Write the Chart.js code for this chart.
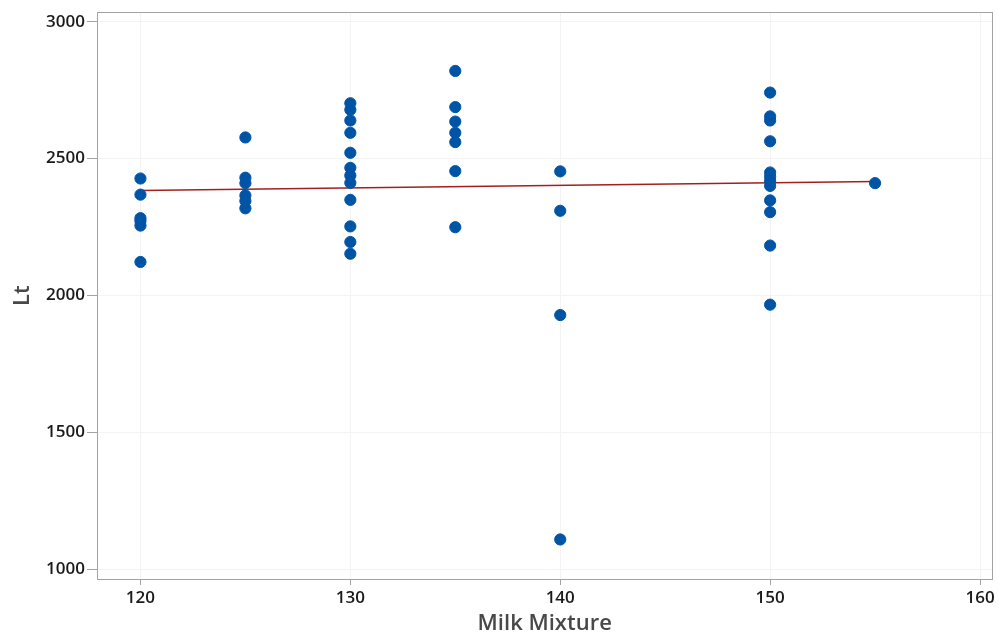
<!DOCTYPE html>
<html>
<head>
<meta charset="utf-8">
<script src="https://cdn.jsdelivr.net/npm/chart.js@4.4.1/dist/chart.umd.min.js"></script>
<style>
  html, body { margin: 0; padding: 0; background: #fff; }
  #wrap { width: 999px; height: 639px; }
</style>
</head>
<body>
<div id="wrap"><canvas id="grafico" width="999" height="639"></canvas></div>
<script>
// valores (Milk Mixture x Lt)
const mix120 = [2427, 2368, 2282, 2272, 2255, 2122];
const mix125 = [2577, 2430, 2410, 2365, 2345, 2318];
const mix130 = [2702, 2678, 2639, 2594, 2521, 2466, 2438, 2411, 2349, 2252, 2195, 2152];
const mix135 = [2820, 2688, 2635, 2594, 2560, 2454, 2249];
const mix140 = [2453, 2309, 1928, 1108];
const mix150 = [2741, 2654, 2639, 2563, 2449, 2434, 2418, 2400, 2347, 2304, 2182, 1966];
const mix155 = [2410];

const grupos = [120, 125, 130, 135, 140, 150, 155];
const valores = [mix120, mix125, mix130, mix135, mix140, mix150, mix155];

// reta ajustada (pontos extremos)
const ajusteX = [120, 155];
const ajusteY = [2383, 2416];

const xTicks = [120, 130, 140, 150, 160];
const yTicks = [1000, 1500, 2000, 2500, 3000];

const pontos = [];
grupos.forEach((g, i) => {
  valores[i].forEach(v => pontos.push({ x: g, y: v }));
});

const caixa = {
  id: 'caixa',
  afterDraw(chart) {
    const a = chart.chartArea;
    const c = chart.ctx;
    c.save();
    c.strokeStyle = '#a3a3a3';
    c.lineWidth = 1;
    c.strokeRect(Math.round(a.left) + 0.5, Math.round(a.top) + 0.5,
      Math.round(a.right - a.left), Math.round(a.bottom - a.top));
    c.restore();
  }
};

const fonte = "'Open Sans', 'Noto Sans', sans-serif";

new Chart(document.getElementById('grafico').getContext('2d'), {
  type: 'scatter',
  data: {
    datasets: [
      {
        label: 'Ajuste',
        type: 'line',
        data: ajusteX.map((x, i) => ({ x: x, y: ajusteY[i] })),
        borderColor: '#a31f1f',
        borderWidth: 1.6,
        pointRadius: 0,
        fill: false,
        order: 2
      },
      {
        label: 'Lt',
        data: pontos,
        backgroundColor: '#0054a6',
        borderColor: '#0054a6',
        pointRadius: 5.6,
        pointHoverRadius: 5.6,
        order: 1
      }
    ]
  },
  options: {
    responsive: false,
    animation: false,
    layout: { padding: { top: 12, right: 4, left: 0, bottom: 0 } },
    plugins: {
      legend: { display: false },
      tooltip: { enabled: false }
    },
    scales: {
      x: {
        type: 'linear',
        min: 117.93,
        max: 160.59,
        afterBuildTicks: s => { s.ticks = xTicks.map(v => ({ value: v })); },
        afterFit: s => { s.height = 60; },
        border: { display: false },
        grid: { color: '#f3f3f3', tickColor: '#a3a3a3', tickLength: 6 },
        ticks: {
          color: '#1a1a1a', padding: 3, maxRotation: 0,
          callback: v => String(v),
          font: { family: fonte, size: 17, weight: 600 }
        },
        title: {
          display: true,
          text: 'Milk Mixture',
          color: '#484848',
          padding: { top: 0, bottom: 2 },
          font: { family: fonte, size: 22, weight: 600 }
        }
      },
      y: {
        type: 'linear',
        min: 963.5,
        max: 3034.7,
        afterBuildTicks: s => { s.ticks = yTicks.map(v => ({ value: v })); },
        afterFit: s => { s.width = 97; },
        border: { display: false },
        grid: { color: '#f3f3f3', tickColor: '#a3a3a3', tickLength: 10 },
        ticks: {
          color: '#1a1a1a', padding: 2,
          callback: v => String(v),
          font: { family: fonte, size: 17, weight: 600 }
        },
        title: {
          display: true,
          text: 'Lt',
          color: '#484848',
          padding: { top: 10, bottom: 0 },
          font: { family: fonte, size: 22, weight: 600 }
        }
      }
    }
  },
  plugins: [caixa]
});
</script>
</body>
</html>
